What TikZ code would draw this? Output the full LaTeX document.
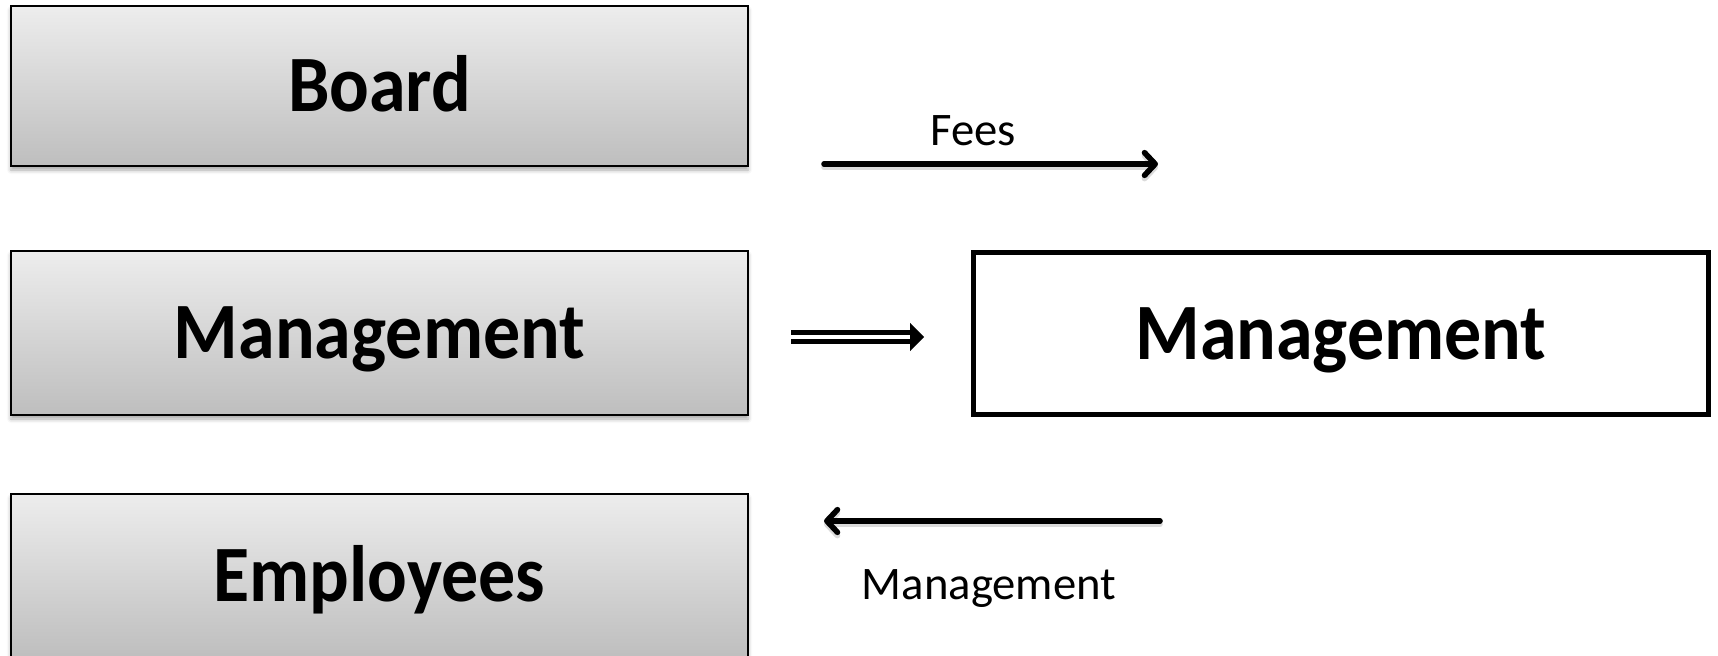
\documentclass[tikz,border=0pt]{standalone}
\usepackage{fontspec}
\setmainfont{Carlito}
\usetikzlibrary{arrows.meta,shadows.blur}

\definecolor{boxtop}{RGB}{237,237,237}
\definecolor{boxbot}{RGB}{190,190,190}

% bold box titles, set slightly tall
\newcommand{\boxtitle}[1]{\scalebox{1}[1.08]{#1}}

\tikzset{
  titlefont/.style={font=\fontsize{55.5}{60}\selectfont\bfseries,
    text height=38.5pt, text depth=-2pt},
  greybox/.style={titlefont, draw=black, line width=1pt, top color=boxtop, bottom color=boxbot,
    minimum width=737*0.75pt, minimum height=160*0.75pt, inner sep=0pt,
    blur shadow={shadow xshift=0pt, shadow yshift=-3pt, shadow opacity=35, shadow blur radius=3pt}},
  whitebox/.style={titlefont, draw=black, line width=3.6pt, fill=white,
    minimum width=735*0.75pt, minimum height=162*0.75pt, inner sep=0pt},
  flowlabel/.style={font=\fontsize{35}{40}\selectfont, inner sep=0pt, anchor=base},
  flow/.style={line width=4.2pt, line cap=round,
    -{Straight Barb[length=8pt, width=17pt, line cap=round, line join=round]}},
  flowshadow/.style={flow, draw=black!40, opacity=0.35, transform canvas={yshift=-2.5pt}},
  hollowshaft/.style={line width=3.3pt, double=white, double distance=3.6pt},
  hollowhead/.style={line width=0.1pt, -{Triangle[length=10.5pt, width=21pt]}}
}

\begin{document}
\begin{tikzpicture}[x=0.75pt, y=-0.75pt]
  \useasboundingbox (0,0) rectangle (1718,656);

  % left column
  \node[greybox] (board) at (379.5,86) {\boxtitle{Board}};
  \node[greybox, minimum height=164*0.75pt] (mgmtL) at (379.5,333) {\boxtitle{Management}};
  \node[greybox, minimum height=164*0.75pt] (empl) at (379.5,576) {\boxtitle{Employees}};

  % right box
  \node[whitebox] (mgmtR) at (1341,333.5) {\boxtitle{Management}};

  % fees flow
  \coordinate (f1) at (824,164);
  \coordinate (f2) at (1158,164);
  \draw[flowshadow] (f1) -- (f2);
  \draw[flow] (f1) -- (f2);
  \node[flowlabel] (fees) at (973,146) {Fees};

  % hollow arrow between the two management boxes
  \coordinate (d1) at (791,337);
  \coordinate (d2) at (911,337);
  \coordinate (d3) at (924,337);
  \draw[hollowshaft] (d1) -- (d2);
  \draw[hollowhead] (d2) -- (d3);

  % management flow back
  \coordinate (m1) at (1160,521);
  \coordinate (m2) at (824,521);
  \draw[flowshadow] (m1) -- (m2);
  \draw[flow] (m1) -- (m2);
  \node[flowlabel] (mlabel) at (989,599) {Management};
\end{tikzpicture}
\end{document}
